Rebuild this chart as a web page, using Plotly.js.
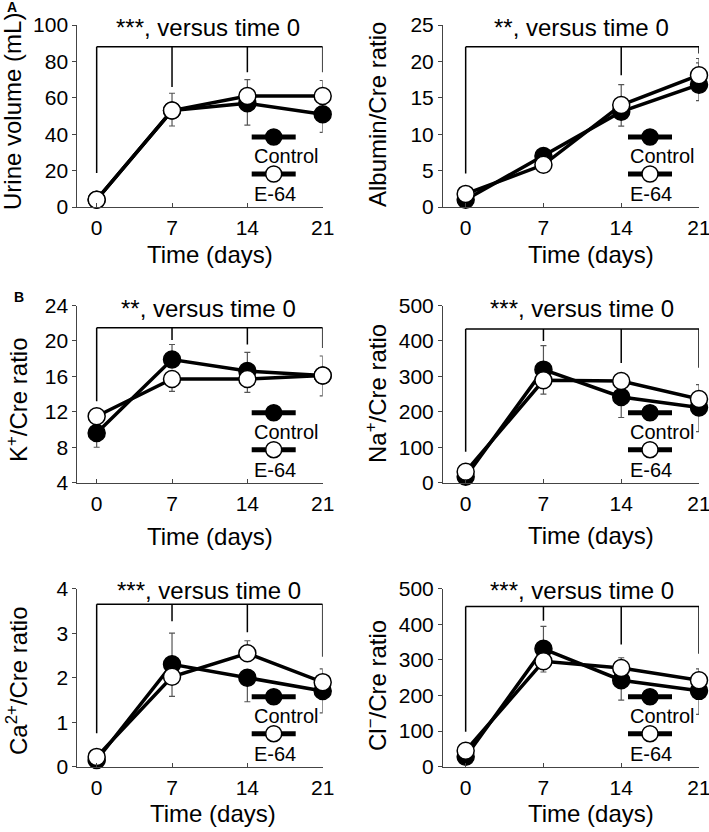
<!DOCTYPE html>
<html><head><meta charset="utf-8">
<script src="https://cdn.plot.ly/plotly-3.0.1.min.js"></script>
<style>html,body{margin:0;padding:0;background:#fff}#chart{width:709px;height:832px}</style>
</head><body><div id="chart"></div><script>
// ---------- data ----------
const days = [0, 7, 14, 21];
const seriesNames = ['Control', 'E-64'];
const panelTitles = ['***, versus time 0', '**, versus time 0', '**, versus time 0', '***, versus time 0', '***, versus time 0', '***, versus time 0'];
const yTitles = ['Urine volume (mL)', 'Albumin/Cre ratio', 'K<sup>+</sup>/Cre ratio', 'Na<sup>+</sup>/Cre ratio', 'Ca<sup>2+</sup>/Cre ratio', 'Cl<sup>−</sup>/Cre ratio'];
const xTitle = 'Time (days)';
const panelLetters = ['A', 'B'];

// Urine volume
const urineControl = [4, 53, 57, 51];
const urineE64 = [4, 53, 61, 61];
const urineControlPlus = [0, 9.5, 0, 0];
const urineControlMinus = [0, 0, 12, 10];
const urineE64Plus = [0, 0, 9, 8.5];
const urineE64Minus = [0, 8.5, 0, 0];
// Albumin/Cre
const albControl = [1.0, 7.0, 13.1, 16.8];
const albE64 = [1.8, 5.8, 14.0, 18.1];
const albControlPlus = [0, 0, 0, 3.0];
const albControlMinus = [0, 0, 2.0, 2.2];
const albE64Plus = [0, 0, 2.8, 2.3];
const albE64Minus = [0, 0, 0, 0];
// K+/Cre
const kControl = [9.6, 17.9, 16.6, 16.1];
const kE64 = [11.5, 15.7, 15.7, 16.1];
const kControlPlus = [0, 1.7, 2.1, 2.2];
const kControlMinus = [1.6, 0, 0, 0];
const kE64Plus = [0, 0, 0, 0];
const kE64Minus = [0, 1.4, 1.5, 2.3];
// Na+/Cre
const naControl = [17, 319, 242, 212];
const naE64 = [31, 289, 287, 236];
const naControlPlus = [0, 68, 0, 0];
const naControlMinus = [0, 0, 58, 68];
const naE64Plus = [0, 0, 0, 41];
const naE64Minus = [0, 39, 0, 0];
// Ca2+/Cre
const caControl = [0.15, 2.3, 2.0, 1.7];
const caE64 = [0.22, 2.02, 2.55, 1.9];
const caControlPlus = [0, 0.7, 0, 0];
const caControlMinus = [0, 0, 0.54, 0.49];
const caE64Plus = [0, 0, 0.28, 0.3];
const caE64Minus = [0, 0.44, 0, 0];
// Cl-/Cre
const clControl = [28, 331, 243, 213];
const clE64 = [45, 296, 277, 243];
const clControlPlus = [0, 63, 0, 0];
const clControlMinus = [0, 0, 56, 66];
const clE64Plus = [0, 0, 29, 32];
const clE64Minus = [0, 30, 0, 0];

// significance brackets: top level and lower end of each drop (null = no drop)
const bracketTop = [88, 22, 21.5, 434, 3.65, 450];
const bracketEnds = [
  [18.7, 66, 74, 74],
  [4.6, null, 18.1, 21.1],
  [13.2, 20.1, 19.6, 19.2],
  [87, 400, 338, 324],
  [0.75, 3.27, 3.02, 2.47],
  [98, 410, 343, 317]
];

const yRanges = [[0, 100], [0, 25], [4, 24], [0, 500], [0, 4], [0, 500]];
const yDticks = [20, 5, 4, 100, 1, 100];

const controlSeries = [urineControl, albControl, kControl, naControl, caControl, clControl];
const e64Series = [urineE64, albE64, kE64, naE64, caE64, clE64];
const controlPlus = [urineControlPlus, albControlPlus, kControlPlus, naControlPlus, caControlPlus, clControlPlus];
const controlMinus = [urineControlMinus, albControlMinus, kControlMinus, naControlMinus, caControlMinus, clControlMinus];
const e64Plus = [urineE64Plus, albE64Plus, kE64Plus, naE64Plus, caE64Plus, clE64Plus];
const e64Minus = [urineE64Minus, albE64Minus, kE64Minus, naE64Minus, caE64Minus, clE64Minus];

// ---------- layout geometry (pixels) ----------
const W = 709, H = 832;
const colGeom = [
  {left: 77.3, right: 322.7, xmin: -1.8},
  {left: 443, right: 699, xmin: -2.04}
];
const rowGeom = [
  {top: 25, bottom: 207},
  {top: 305.5, bottom: 482.7},
  {top: 588.7, bottom: 766.7}
];
const titlePos = [[208, 27], [581, 27], [208, 308], [582, 308], [209, 590], [582, 590]];
const yTitlePos = [[13, 112], [377, 114], [17, 400], [376, 393], [17, 681], [376, 685]];
const xTitlePos = [[210, 255], [591, 255], [210, 536], [591, 535], [213, 813], [591, 813]];
const letterPos = [[12, 7], [19, 297]];

const px = x => x / W;
const py = y => 1 - y / H;
const FONT = 'Liberation Sans, Arial, sans-serif';

const traces = [];
const layout = {
  width: W, height: H,
  margin: {l: 0, r: 0, t: 0, b: 0},
  paper_bgcolor: '#fff', plot_bgcolor: 'rgba(0,0,0,0)',
  showlegend: false,
  font: {family: FONT, color: '#000', size: 21},
  shapes: [], annotations: []
};

for (let i = 0; i < 6; i++) {
  const col = colGeom[i % 2], row = rowGeom[Math.floor(i / 2)];
  const n = i + 1;
  const xa = 'xaxis' + (n === 1 ? '' : n), ya = 'yaxis' + (n === 1 ? '' : n);
  const xr = 'x' + (n === 1 ? '' : n), yr = 'y' + (n === 1 ? '' : n);
  layout[xa] = {
    domain: [px(col.left), px(col.right)], range: [col.xmin, 21], anchor: yr,
    showline: true, linecolor: '#444', linewidth: 1, showgrid: false, zeroline: false,
    tickvals: days, ticktext: days.map(String), ticks: 'inside', ticklen: 4, tickcolor: '#444',
    tickfont: {size: 21, family: FONT, color: '#000'}, ticklabelstandoff: 2,
    ticklabeloverflow: 'allow', fixedrange: true
  };
  layout[ya] = {
    domain: [py(row.bottom), py(row.top)], range: yRanges[i], anchor: xr,
    showline: true, linecolor: '#444', linewidth: 1, showgrid: false, zeroline: false,
    dtick: yDticks[i], tick0: yRanges[i][0], ticks: 'outside', ticklen: 4, tickcolor: '#444',
    tickfont: {size: 21, family: FONT, color: '#000'}, ticklabeloverflow: 'allow', fixedrange: true
  };
  const common = {
    x: days, xaxis: xr, yaxis: yr, type: 'scatter', mode: 'lines+markers', cliponaxis: false,
    line: {color: '#000', width: 3.5}, hoverinfo: 'skip'
  };
  traces.push(Object.assign({}, common, {
    name: seriesNames[0], y: controlSeries[i],
    marker: {size: 17, color: '#000', line: {color: '#000', width: 1.5}},
    error_y: {type: 'data', symmetric: false, array: controlPlus[i], arrayminus: controlMinus[i], color: '#555', thickness: 1.2, width: 3}
  }));
  traces.push(Object.assign({}, common, {
    name: seriesNames[1], y: e64Series[i],
    marker: {size: 17, color: '#fff', line: {color: '#000', width: 1.5}},
    error_y: {type: 'data', symmetric: false, array: e64Plus[i], arrayminus: e64Minus[i], color: '#555', thickness: 1.2, width: 3}
  }));

  // bracket
  layout.shapes.push({type: 'line', xref: xr, yref: yr, x0: days[0], x1: days[days.length - 1], y0: bracketTop[i], y1: bracketTop[i], line: {color: '#000', width: 1.5}});
  bracketEnds[i].forEach((e, k) => {
    if (e === null) return;
    layout.shapes.push({type: 'line', xref: xr, yref: yr, x0: days[k], x1: days[k], y0: e, y1: bracketTop[i], line: {color: '#000', width: 1.5}});
  });

  // custom legend (symbol above label), positioned relative to panel's bottom-right
  const bx = col.right, by = row.bottom;
  const entries = [
    {fill: '#000', sym: by - 70, txt: by - 51, label: seriesNames[0]},
    {fill: '#fff', sym: by - 33, txt: by - 13, label: seriesNames[1]}
  ];
  entries.forEach(en => {
    layout.shapes.push({type: 'line', xref: 'paper', yref: 'paper', x0: px(bx - 71), x1: px(bx - 27), y0: py(en.sym), y1: py(en.sym), line: {color: '#000', width: 5}});
    layout.shapes.push({type: 'circle', xref: 'paper', yref: 'paper', xsizemode: 'pixel', ysizemode: 'pixel',
      xanchor: px(bx - 49), yanchor: py(en.sym), x0: -8, x1: 8, y0: -8, y1: 8,
      fillcolor: en.fill, line: {color: '#000', width: 1.5}});
    layout.annotations.push({xref: 'paper', yref: 'paper', x: px(bx - 71), y: py(en.txt), xanchor: 'left', yanchor: 'middle',
      text: en.label, showarrow: false, font: {size: 20, family: FONT, color: '#000'}});
  });

  // panel title
  layout.annotations.push({xref: 'paper', yref: 'paper', x: px(titlePos[i][0]), y: py(titlePos[i][1]), xanchor: 'center', yanchor: 'middle',
    text: panelTitles[i], showarrow: false, font: {size: 24, family: FONT, color: '#000'}});
  // y title
  layout.annotations.push({xref: 'paper', yref: 'paper', x: px(yTitlePos[i][0]), y: py(yTitlePos[i][1]), xanchor: 'center', yanchor: 'middle',
    text: yTitles[i], textangle: -90, showarrow: false, font: {size: 24, family: FONT, color: '#000'}});
  // x title
  layout.annotations.push({xref: 'paper', yref: 'paper', x: px(xTitlePos[i][0]), y: py(xTitlePos[i][1]), xanchor: 'center', yanchor: 'middle',
    text: xTitle, showarrow: false, font: {size: 24, family: FONT, color: '#000'}});
}
panelLetters.forEach((L, k) => {
  layout.annotations.push({xref: 'paper', yref: 'paper', x: px(letterPos[k][0]), y: py(letterPos[k][1]), xanchor: 'center', yanchor: 'middle',
    text: '<b>' + L + '</b>', showarrow: false, font: {size: 14, family: FONT, color: '#000'}});
});

Plotly.newPlot('chart', traces, layout, {staticPlot: true, displayModeBar: false});
</script></body></html>
